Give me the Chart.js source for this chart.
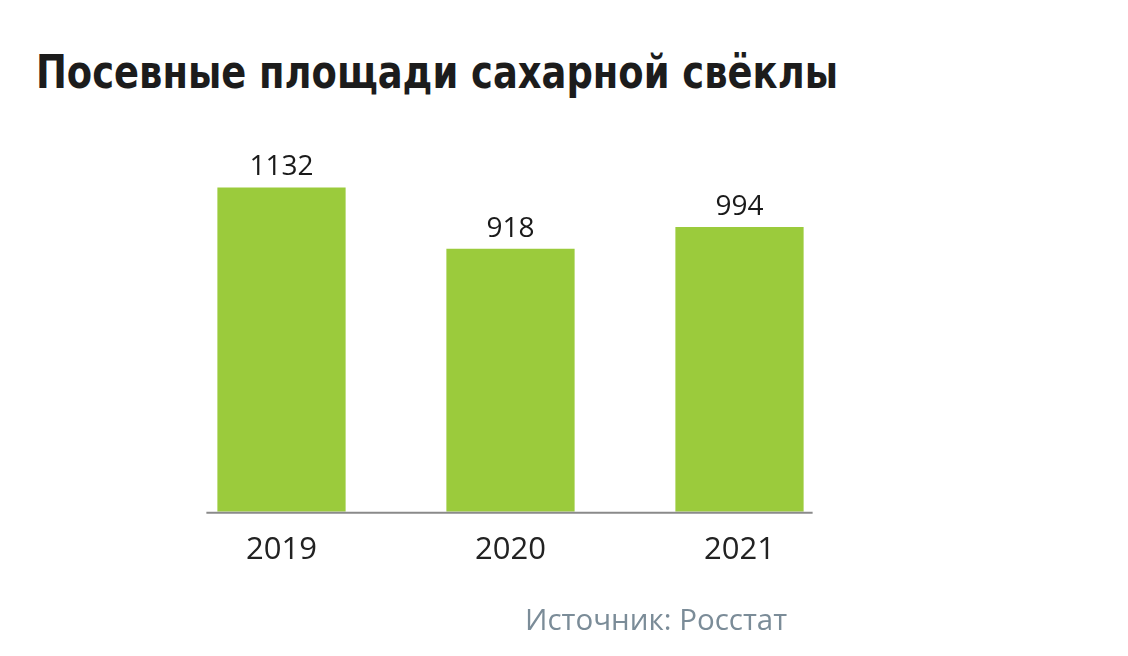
<!DOCTYPE html>
<html>
<head>
<meta charset="utf-8">
<script src="https://cdn.jsdelivr.net/npm/chart.js@4.4.0/dist/chart.umd.min.js"></script>
<style>
  html, body { margin: 0; padding: 0; background: #fff; }
  #wrap { position: relative; width: 1128px; height: 656px; overflow: hidden; }
  #title { position: absolute; left: 36px; top: 44px; font-family: "Liberation Sans Narrow", "DejaVu Sans Condensed", sans-serif; font-weight: bold; font-size: 47px; color: #1c1c1c; white-space: nowrap; transform-origin: left top; }
  #source { position: absolute; left: 525px; top: 598px; font-family: "Open Sans", sans-serif; font-size: 29.5px; color: #7b8c98; white-space: nowrap; }
  #chartBox { position: absolute; left: 0; top: 0; width: 1128px; height: 656px; }
</style>
</head>
<body>
<div id="wrap">
  <div id="title">Посевные площади сахарной свёклы</div>
  <div id="chartBox"><canvas id="chart"></canvas></div>
  <div id="source">Источник: Росстат</div>
</div>
<script>
var years = ['2019', '2020', '2021'];
var areas = [1132, 918, 994];

// fit title to its width in the picture
var t = document.getElementById('title');
var w = t.getBoundingClientRect().width;
t.style.transform = 'scaleX(' + (802 / w) + ')';

var valueLabels = {
  id: 'valueLabels',
  afterDatasetsDraw: function(chart) {
    var ctx = chart.ctx;
    var meta = chart.getDatasetMeta(0);
    ctx.save();
    ctx.font = '28px "Open Sans", sans-serif';
    ctx.fillStyle = '#1a1a1a';
    ctx.textAlign = 'center';
    ctx.textBaseline = 'alphabetic';
    meta.data.forEach(function(bar, i) {
      ctx.fillText(areas[i], bar.x, bar.y - 12);
    });
    ctx.restore();
  }
};

var baseLine = {
  id: 'baseLine',
  afterDatasetsDraw: function(chart) {
    var ctx = chart.ctx;
    var bars = chart.getDatasetMeta(0).data;
    var first = bars[0], last = bars[bars.length - 1];
    var y = chart.scales.y.getPixelForValue(0);
    ctx.save();
    ctx.strokeStyle = '#8a8a8a';
    ctx.lineWidth = 2;
    ctx.beginPath();
    ctx.moveTo(first.x - first.width / 2 - 11, y + 1);
    ctx.lineTo(last.x + last.width / 2 + 9, y + 1);
    ctx.stroke();
    ctx.restore();
  }
};

new Chart(document.getElementById('chart'), {
  type: 'bar',
  data: {
    labels: years,
    datasets: [{
      data: areas,
      backgroundColor: '#9bcb3c',
      barPercentage: 0.56,
      categoryPercentage: 1
    }]
  },
  options: {
    responsive: true,
    maintainAspectRatio: false,
    animation: false,
    layout: { padding: { left: 167, right: 274, top: 168, bottom: 75 } },
    plugins: { legend: { display: false }, tooltip: { enabled: false } },
    scales: {
      x: {
        grid: { display: false },
        border: { display: false },
        ticks: { color: '#222', padding: 12, font: { family: 'Open Sans', size: 31 } }
      },
      y: {
        display: false,
        min: 0,
        max: 1200
      }
    }
  },
  plugins: [valueLabels, baseLine]
});
</script>
</body>
</html>
